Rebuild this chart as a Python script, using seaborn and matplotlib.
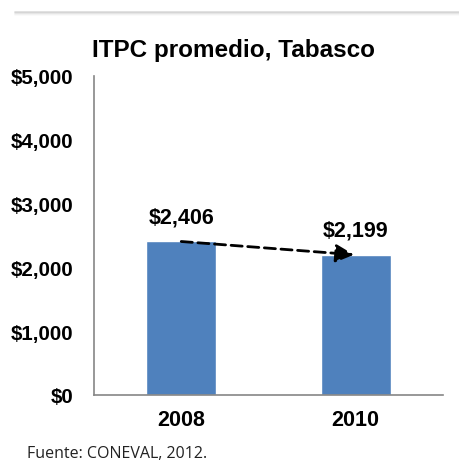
import pandas as pd
import matplotlib.pyplot as plt
import seaborn as sns
from matplotlib.ticker import FuncFormatter

# data
years = ['2008', '2010']
itpc = [2406, 2199]
yticks = [0, 1000, 2000, 3000, 4000, 5000]

df = pd.DataFrame({'Año': years, 'ITPC': itpc})

sns.set_style('white')
plt.rcParams['font.family'] = ['Liberation Sans', 'DejaVu Sans']
plt.rcParams['text.color'] = 'black'
plt.rcParams['xtick.labelcolor'] = 'black'
plt.rcParams['ytick.labelcolor'] = 'black'

fig = plt.figure(figsize=(4.6, 4.64), dpi=100)
ax = fig.add_axes([94 / 460, 1 - 396 / 464, (443 - 94) / 460, (396 - 77) / 464])

sns.barplot(data=df, x='Año', y='ITPC', color='#4F81BD', width=0.4,
            saturation=1, ax=ax)

ax.set_ylim(0, 5000)
ax.set_xlim(-0.5, 1.5)
ax.set_yticks(yticks)
ax.yaxis.set_major_formatter(FuncFormatter(lambda v, p: f'${v:,.0f}'))
ax.set_xticks([-0.5, 0.5, 1.5], minor=False)
ax.set_xticklabels(['', '', ''])
ax.set_xticks([0, 1], minor=True)
ax.set_xticklabels(years, minor=True, fontsize=15.5, fontweight='bold')
ax.tick_params(axis='x', which='minor', length=0, pad=10, labelcolor='black')
ax.tick_params(axis='x', which='major', length=6, width=1, color='#868686', direction='out')
ax.tick_params(axis='y', length=6, width=1, color='#868686', direction='out',
               labelsize=14.8, pad=9, labelcolor='black')
for lab in ax.get_yticklabels():
    lab.set_fontweight('bold')
ax.set_xlabel('')
ax.set_ylabel('')

for s in ['top', 'right']:
    ax.spines[s].set_visible(False)
for s in ['left', 'bottom']:
    ax.spines[s].set_color('#868686')
    ax.spines[s].set_linewidth(1.2)

# value labels
for i, v in enumerate(itpc):
    ax.annotate(f'${v:,}', xy=(i, v), xytext=(0, 17.5), textcoords='offset points',
                ha='center', va='center', fontsize=15.5, fontweight='bold', color='black')

# dashed trend arrow
ax.annotate('', xy=(0.99, itpc[1]), xytext=(0, itpc[0]),
            arrowprops=dict(arrowstyle='-|>,head_length=1.1,head_width=0.55',
                            linestyle=(0, (4, 2)), lw=2, color='black',
                            shrinkA=0, shrinkB=0))

fig.text(234 / 460, 1 - 50 / 464, 'ITPC promedio, Tabasco', fontsize=17.5,
         fontweight='bold', ha='center', va='center', color='black')

fig.text(27 / 460, 1 - 454 / 464, 'Fuente: CONEVAL, 2012.', fontsize=11.5,
         ha='left', va='center', family=['Open Sans', 'DejaVu Sans'], color='#222222')

# grey shadow line at the top
for k, a in enumerate([0.35, 0.2, 0.1, 0.05]):
    fig.add_artist(plt.Line2D([15 / 460, 1], [1 - (13 + k) / 464] * 2,
                              color='#9a9a9a', alpha=a, lw=1.2))

fig.savefig('out.png', dpi=100)
